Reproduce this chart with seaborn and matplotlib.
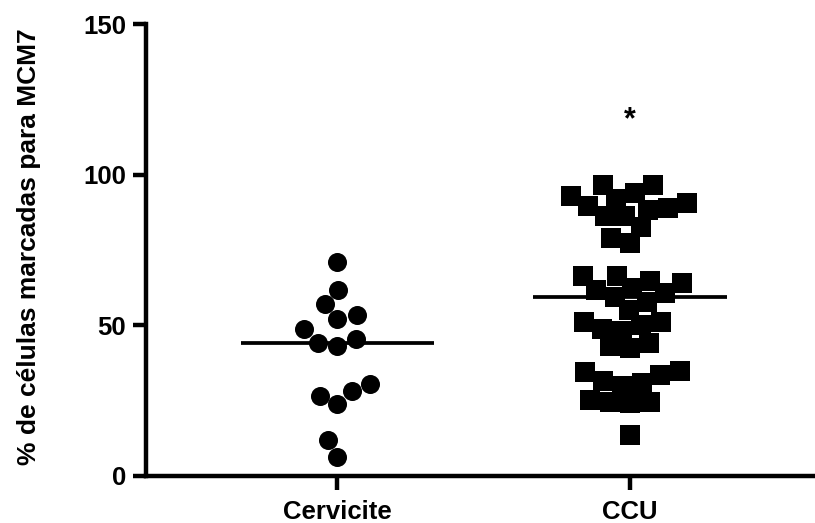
import numpy as np
import pandas as pd
import matplotlib
matplotlib.use("Agg")
import matplotlib.pyplot as plt
import seaborn as sns

# % of MCM7-positive cells per sample
categories = ["Cervicite", "CCU"]
cervicite = [71.1, 61.7, 52.1, 53.4, 57.0, 48.7, 43.1, 44.0, 45.5,
             26.7, 23.8, 28.2, 30.4, 11.9, 6.4]
ccu = [90.5, 64.0, 33.5,
       93.0, 86.3, 66.4, 59.5, 51.0, 44.2, 29.9,
       96.7, 89.7, 79.0, 66.4, 55.1, 48.2, 30.8, 24.5,
       88.8, 82.5, 64.8, 57.8, 48.9, 42.4, 34.8, 25.2, 13.6,
       96.7, 88.4, 77.2, 60.6, 51.2, 43.1, 24.1,
       91.9, 61.7, 50.1, 31.5, 24.7,
       93.8, 86.3, 62.5, 34.6]
yticks = [0, 50, 100, 150]
signif_label = "*"
signif_y = 118

df = pd.DataFrame({
    "grupo": [categories[0]] * len(cervicite) + [categories[1]] * len(ccu),
    "valor": cervicite + ccu,
})

sns.set_theme(style="ticks")
plt.rcParams["font.family"] = ["Liberation Sans", "DejaVu Sans"]
plt.rcParams["font.weight"] = "bold"

fig = plt.figure(figsize=(8.15, 5.23), dpi=100)
ax = fig.add_axes([0.1791, 0.0899, 0.8209, 0.8642])

markers = {"Cervicite": "o", "CCU": "s"}
for cat in categories:
    sub = df[df["grupo"] == cat]
    sns.swarmplot(data=sub, x="grupo", y="valor", order=categories,
                  marker=markers[cat], color="black", size=13.7,
                  linewidth=0, ax=ax, clip_on=False, warn_thresh=1)

# median bars
sns.boxplot(data=df, x="grupo", y="valor", order=categories, width=0.66,
            showbox=False, showcaps=False, showfliers=False, whis=0,
            medianprops=dict(color="black", linewidth=2.7),
            whiskerprops=dict(visible=False), ax=ax)

ax.text(1, signif_y, signif_label, ha="center", va="center",
        fontsize=22, fontweight="bold", color="black")

ax.set_ylim(0, 150)
ax.set_xlim(-0.654, 1.632)
ax.set_yticks(yticks)
ax.set_yticklabels([str(t) for t in yticks])
ax.set_xlabel("")
ax.set_ylabel("% de células marcadas para MCM7", fontsize=19,
              fontweight="bold", color="black")
ax.yaxis.set_label_coords(-0.157, 0.508)

for side in ["top", "right"]:
    ax.spines[side].set_visible(False)
for side in ["left", "bottom"]:
    ax.spines[side].set_linewidth(3.2)
    ax.spines[side].set_color("black")
    ax.spines[side].set_capstyle("projecting")

ax.tick_params(axis="y", length=9.4, width=3.2, pad=5, labelsize=18.5,
               colors="black")
ax.tick_params(axis="x", length=10, width=3.2, pad=7, labelsize=18.5,
               colors="black")
for lab in ax.get_xticklabels() + ax.get_yticklabels():
    lab.set_fontweight("bold")

fig.savefig("out.png", dpi=100)
